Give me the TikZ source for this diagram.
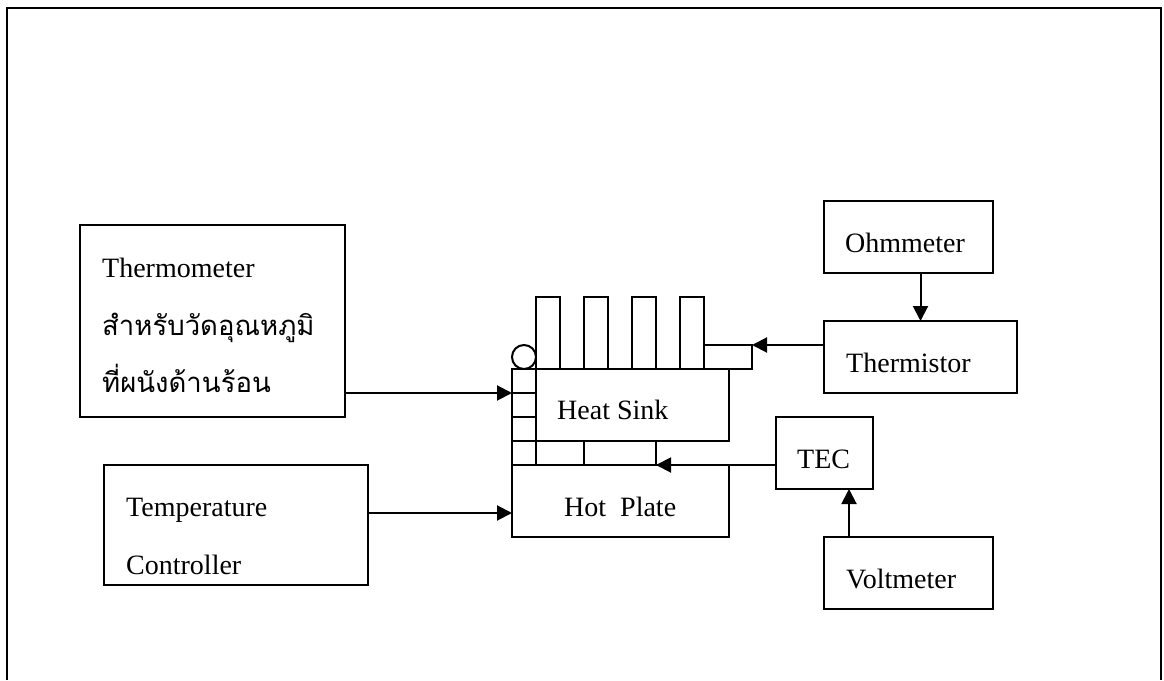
\documentclass[tikz,border=0pt]{standalone}
\usepackage{fontspec}
\setmainfont{Liberation Serif}
\newfontfamily\thaifont[Script=Thai]{Loma}
\usetikzlibrary{arrows.meta, positioning}
\tikzstyle{block} = [rectangle, draw, line width=2pt, inner sep=0pt, outer sep=0pt]
\tikzstyle{caption} = [anchor=base west, inner sep=0pt, font=\fontsize{28}{34}\selectfont]
\tikzstyle{thaicaption} = [anchor=base west, inner sep=0pt, font=\fontsize{27.5}{34}\selectfont\thaifont]
\tikzstyle{line} = [draw, line width=2pt, -{Triangle[length=15pt, width=15pt]}]

\begin{document}
\begin{tikzpicture}[x=1pt, y=-1pt, node distance=24pt]
    \useasboundingbox (0,0) rectangle (1164,680);
    \draw [line width=2pt] (7,680) -- (7,8) -- (1161,8) -- (1161,680);

    % Nodes
    \node [block, minimum width=265pt, minimum height=192pt] (thermometer) at (212.5,321) {};
    \node [block, minimum width=264pt, minimum height=120pt] (controller) at (236,525) {};
    \node [block, minimum width=193pt, minimum height=72pt] (sink) at (632.5,405) {};
    \node [block, minimum width=217pt, minimum height=72pt] (hotplate) at (620.5,501) {};
    \node [block, minimum width=169pt, minimum height=72pt] (ohmmeter) at (908.5,237) {};
    \node [block, minimum width=193pt, minimum height=72pt] (thermistor) at (920.5,357) {};
    \node [block, minimum width=97pt, minimum height=72pt] (tec) at (824.5,453) {};
    \node [block, minimum width=169pt, minimum height=72pt] (voltmeter) at (908.5,573) {};

    % Fins on the sink
    \node [block, minimum width=24pt, minimum height=72pt] (fina) at (548,333) {};
    \node [block, minimum width=24pt, minimum height=72pt, right of=fina, node distance=48pt] (finb) {};
    \node [block, minimum width=24pt, minimum height=72pt, right of=finb, node distance=48pt] (finc) {};
    \node [block, minimum width=24pt, minimum height=72pt, right of=finc, node distance=48pt] (find) {};
    \node [block, minimum width=48pt, minimum height=24pt] (tab) at (728,357) {};

    % Strip beside the sink
    \node [block, minimum size=24pt] (cella) at (524,381) {};
    \node [block, minimum size=24pt, below of=cella] (cellb) {};
    \node [block, minimum size=24pt, below of=cellb] (cellc) {};
    \node [block, minimum size=24pt, below of=cellc] (celld) {};
    \node [block, circle, minimum size=24pt, above of=cella] (probe) {};
    \node [block, minimum width=48pt, minimum height=24pt] (gapa) at (560,453) {};
    \node [block, minimum width=72pt, minimum height=24pt] (gapb) at (620,453) {};

    % Texts
    \node [caption] (thermometertext) at (102,277) {Thermometer};
    \node [thaicaption] (thaitexta) at (102,335) {สำหรับวัดอุณหภูมิ};
    \node [thaicaption] (thaitextb) at (102,392) {ที่ผนังด้านร้อน};
    \node [caption] (temperaturetext) at (126,516) {Temperature};
    \node [caption] (controllertext) at (126,574) {Controller};
    \node [caption] (sinktext) at (557,419) {Heat Sink};
    \node [caption] (platetext) at (564,516) {Hot\ \ Plate};
    \node [caption] (ohmtext) at (845,252) {Ohmmeter};
    \node [caption] (thermistortext) at (846,372) {Thermistor};
    \node [caption] (tectext) at (797,468) {TEC};
    \node [caption] (volttext) at (846,588) {Voltmeter};

    \coordinate (platein) at (512,513);
    \coordinate (tecin) at (849,489);

    % Lines
    \path [line] (thermometer.east |- cella.south west) -- (cella.south west);
    \path [line] (controller.east |- platein) -- (platein);
    \path [line] (ohmmeter.south -| thermistor.north) -- (thermistor.north);
    \path [line] (thermistor.west |- tab.north east) -- (tab.north east);
    \path [line] (tec.west |- gapb.south east) -- (gapb.south east);
    \path [line] (tecin |- voltmeter.north) -- (tecin);

\end{tikzpicture}
\end{document}
